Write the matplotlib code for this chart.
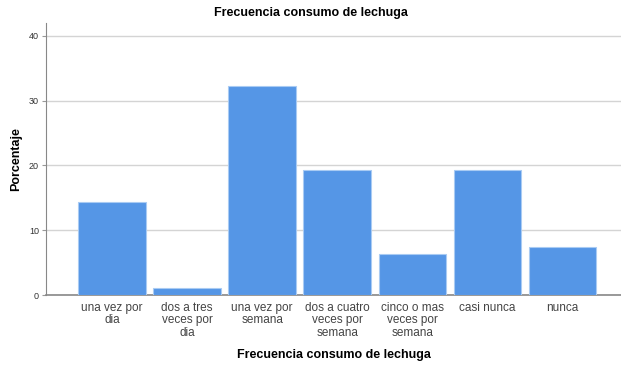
import matplotlib
matplotlib.use("Agg")
import matplotlib.pyplot as plt

categories = ["una vez por\ndia", "dos a tres\nveces por\ndia", "una vez por\nsemana",
              "dos a cuatro\nveces por\nsemana", "cinco o mas\nveces por\nsemana",
              "casi nunca", "nunca"]
porcentaje = [14.4, 1.1, 32.2, 19.3, 6.3, 19.3, 7.4]
yticks = [0, 10, 20, 30, 40]

plt.rcParams['font.family'] = ['Liberation Sans', 'DejaVu Sans']

fig = plt.figure(figsize=(6.21, 3.67), dpi=100)
ax = fig.add_axes([0.074, 0.196, 0.926, 0.742])

x = range(len(categories))
ax.bar(x, porcentaje, width=0.9, color="#5596e6", edgecolor="#a9cbf3", linewidth=0.8, zorder=3)

ax.set_xlim(-0.88, 6.78)
ax.set_ylim(0, 42)
ax.set_yticks(yticks)
ax.yaxis.grid(True, color="#d4d4d4", linewidth=1.0, zorder=0)
ax.set_xticks(list(x))
ax.set_xticklabels(categories, fontsize=8.5, color="#444444", linespacing=1.05)
ax.tick_params(axis="x", length=0, pad=5)
ax.tick_params(axis="y", length=3, color="#999999", labelsize=6.5, labelcolor="#333333", pad=2)

for s in ["top", "right"]:
    ax.spines[s].set_visible(False)
ax.spines["left"].set_color("#888888")
ax.spines["bottom"].set_color("#888888")
ax.spines["bottom"].set_linewidth(1.2)

ax.set_ylabel("Porcentaje", fontsize=9, fontweight="bold", va="center")
ax.yaxis.set_label_coords(-0.052, 0.5)
ax.set_xlabel("Frecuencia consumo de lechuga", fontsize=9, fontweight="bold", va="center")
ax.xaxis.set_label_coords(0.5, -0.22)
fig.text(0.5, 0.965, "Frecuencia consumo de lechuga", fontsize=9, fontweight="bold",
         ha="center", va="center")

fig.savefig("out.png", dpi=100)
